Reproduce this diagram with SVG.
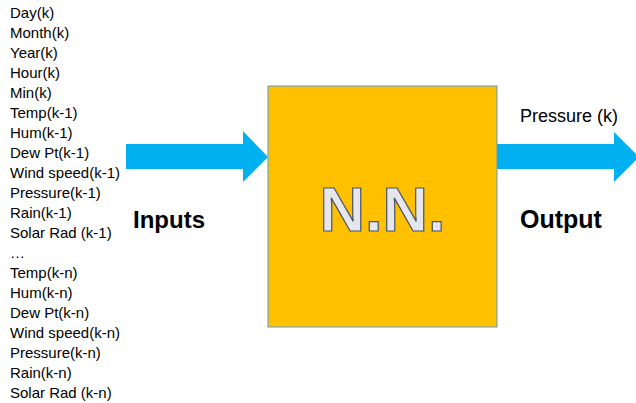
<svg xmlns="http://www.w3.org/2000/svg" width="636" height="403" viewBox="0 0 636 403">
<style>
.lbl{font-family:"Liberation Sans",Arial,sans-serif;font-size:15px;fill:#000}
.big{font-family:"Liberation Sans",Arial,sans-serif;font-weight:bold;font-size:24px;fill:#000}
.arrow{fill:#00B0F0}
</style>
<rect width="636" height="403" fill="#fff"/>
<g id="inputs-list" class="lbl">
<text x="10" y="17.5">Day(k)</text>
<text x="10" y="37.5">Month(k)</text>
<text x="10" y="57.5">Year(k)</text>
<text x="10" y="77.5">Hour(k)</text>
<text x="10" y="97.5">Min(k)</text>
<text x="10" y="117.5">Temp(k-1)</text>
<text x="10" y="137.5">Hum(k-1)</text>
<text x="10" y="157.5">Dew Pt(k-1)</text>
<text x="10" y="177.5">Wind speed(k-1)</text>
<text x="10" y="197.5">Pressure(k-1)</text>
<text x="10" y="217.5">Rain(k-1)</text>
<text x="10" y="237.5">Solar Rad (k-1)</text>
<text x="10" y="257.5">…</text>
<text x="10" y="277.5">Temp(k-n)</text>
<text x="10" y="297.5">Hum(k-n)</text>
<text x="10" y="317.5">Dew Pt(k-n)</text>
<text x="10" y="337.5">Wind speed(k-n)</text>
<text x="10" y="357.5">Pressure(k-n)</text>
<text x="10" y="377.5">Rain(k-n)</text>
<text x="10" y="397.5">Solar Rad (k-n)</text>
</g>
<g id="connectors">
<polygon class="arrow" points="126,144 243,144 243,131 268,157 243,182 243,169 126,169"/>
<polygon class="arrow" points="497,144 614,144 614,132 639,157 614,182 614,169 497,169"/>
</g>
<g id="nn">
<rect x="268" y="86" width="229" height="241" fill="#FFC000" stroke="#5B9BD5" stroke-width="1"/>
<text x="382.5" y="231" text-anchor="middle" font-family="'Liberation Sans',Arial,sans-serif" font-weight="bold" font-size="63" fill="#E7E6EC" stroke="#44546A" stroke-width="1.2">N.N.</text>
</g>
<text class="big" x="133" y="228">Inputs</text>
<text class="big" x="520" y="228" style="font-size:25px">Output</text>
<text class="lbl" x="520" y="122" style="font-size:18px">Pressure (k)</text>
</svg>
